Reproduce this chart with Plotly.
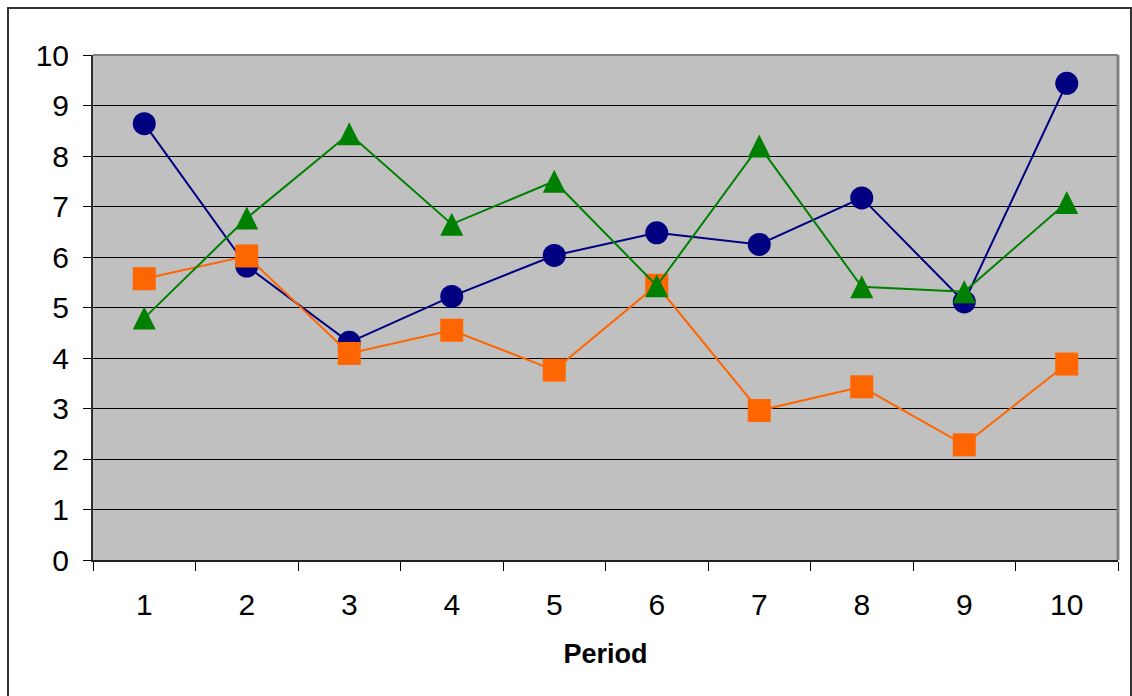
import plotly.graph_objects as go

# Period labels and the three series plotted against them
periods = ["1", "2", "3", "4", "5", "6", "7", "8", "9", "10"]
series_a = [8.64, 5.82, 4.31, 5.22, 6.03, 6.48, 6.25, 7.17, 5.11, 9.44]
series_b = [5.57, 6.02, 4.09, 4.55, 3.76, 5.44, 2.96, 3.43, 2.28, 3.88]
series_c = [4.79, 6.77, 8.44, 6.65, 7.50, 5.43, 8.20, 5.41, 5.31, 7.08]
y_ticks = [0, 1, 2, 3, 4, 5, 6, 7, 8, 9, 10]

FONT = "Liberation Sans, Arial, sans-serif"
MSIZE = 23

fig = go.Figure()
fig.add_trace(go.Scatter(
    x=periods, y=series_a, name="Series 1", mode="lines+markers",
    line=dict(color="#000080", width=2),
    marker=dict(symbol="circle", size=MSIZE, color="#000080"),
))
fig.add_trace(go.Scatter(
    x=periods, y=series_b, name="Series 2", mode="lines+markers",
    line=dict(color="#FF6600", width=2),
    marker=dict(symbol="square", size=MSIZE, color="#FF6600"),
))
# upward isosceles triangle: arrow-down rotated 180 deg, shifted to be centred
fig.add_trace(go.Scatter(
    x=periods, y=series_c, name="Series 3", mode="lines+markers",
    line=dict(color="#008000", width=2),
    marker=dict(symbol="arrow-down", size=MSIZE, color="#008000",
                angle=180, standoff=MSIZE / 2),
))

L, R, T, B = 93, 14, 55, 136
W, H = 1132, 696
pw, ph = W - L - R, H - T - B


def px_to_paper_x(px):
    return (px - L) / pw


def px_to_paper_y(py):
    return (H - B - py) / ph


fig.update_layout(
    width=W, height=H,
    margin=dict(l=L, r=R, t=T, b=B, autoexpand=False),
    paper_bgcolor="white",
    plot_bgcolor="#C0C0C0",
    showlegend=False,
    font=dict(family=FONT, color="black", size=30),
    xaxis=dict(
        type="category",
        range=[-0.5, len(periods) - 0.5],
        tickson="boundaries",
        ticks="outside", ticklen=9, tickwidth=1, tickcolor="black",
        showline=True, linecolor="#202020", linewidth=2,
        showgrid=False, zeroline=False,
        tickfont=dict(size=30),
        ticklabelstandoff=17,
        title=dict(text="<b>Period</b>", font=dict(size=27), standoff=24),
        automargin=False,
    ),
    yaxis=dict(
        range=[0, 10],
        tickvals=y_ticks,
        ticks="outside", ticklen=8, tickwidth=1, tickcolor="black",
        showline=True, linecolor="#303030", linewidth=2,
        showgrid=True, gridcolor="black", gridwidth=1,
        zeroline=False,
        tickfont=dict(size=30),
        ticklabelstandoff=8,
        automargin=False,
    ),
    shapes=[
        # outer chart frame
        dict(type="rect", xref="paper", yref="paper",
             x0=px_to_paper_x(8), x1=px_to_paper_x(1131),
             y0=px_to_paper_y(8), y1=px_to_paper_y(720),
             line=dict(color="#333333", width=2), layer="above"),
        # top and right edges of the plot area
        dict(type="line", xref="paper", yref="paper", x0=0, x1=1, y0=1, y1=1,
             line=dict(color="#808080", width=2), layer="above"),
        dict(type="line", xref="paper", yref="paper", x0=1, x1=1, y0=0, y1=1,
             line=dict(color="#808080", width=3), layer="above"),
    ],
)

fig.write_html("out.html")
